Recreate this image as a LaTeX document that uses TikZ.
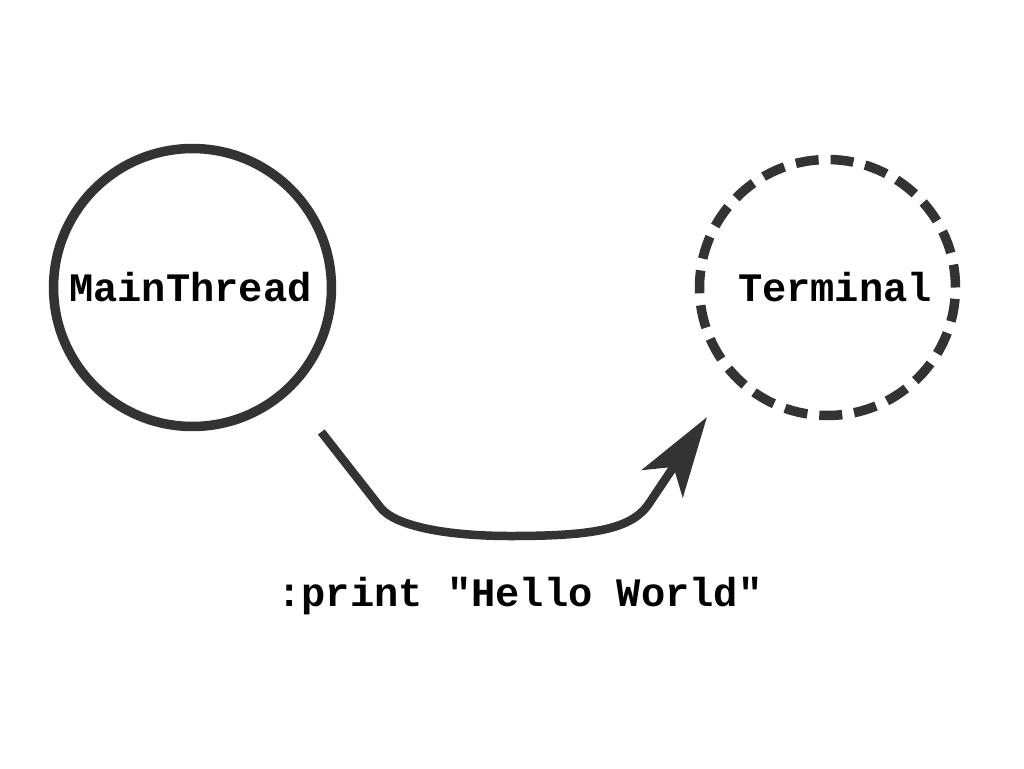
\documentclass[tikz,border=0pt]{standalone}
\usepackage{fontspec}
\setmonofont{Liberation Mono}
\usetikzlibrary{arrows.meta,calc}
\definecolor{ink}{HTML}{333333}
\begin{document}
\begin{tikzpicture}[x=0.02cm,y=-0.02cm,
  state/.style={circle,draw=ink,line width=0.19cm,inner sep=0pt,
    font=\fontsize{23}{28}\selectfont\ttfamily\bfseries,text=black},
  lbl/.style={font=\fontsize{23}{28}\selectfont\ttfamily\bfseries,text=black},
  conn/.style={draw=ink,line width=0.17cm,
    -{Stealth[length=1.6cm,width=0.98cm,inset=0.4cm]}}]
\useasboundingbox[fill=white] (0,0) rectangle (1024,768);
\node[state,minimum size=5.56cm] (main) at (192.5,287.5) {\hspace*{-0.08cm}MainThread};
\node[state,dashed,dash pattern=on 0.46cm off 0.24cm,minimum size=5.12cm] (term) at (827.5,287.5) {\hspace*{0.3cm}Terminal};
\draw[conn,shorten <=1cm,shorten >=0.9cm] (main.-47.8) -- (380,507)
  .. controls (395,527) and (450,536) .. (510,536)
  .. controls (590,536) and (630,530) .. (648,505) -- (term.-136.4);
\node[lbl] (msg) at (520,596) {:print "Hello World"};
\end{tikzpicture}
\end{document}
